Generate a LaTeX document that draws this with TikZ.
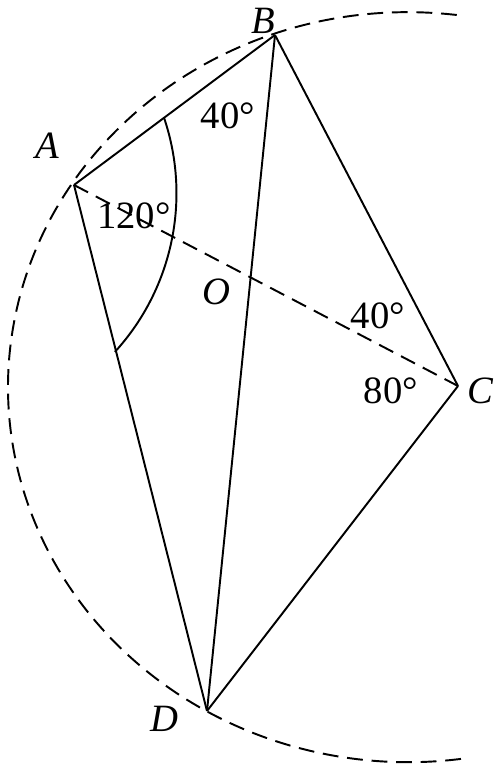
\documentclass[tikz,border=0pt]{standalone}
\usepackage{fontspec}
\setmainfont{Liberation Serif}
\usetikzlibrary{calc}
\tikzset{%
  seg/.style={line width=1.1pt},
  aux/.style={line width=1.1pt, dash pattern=on 9pt off 5pt},
  ptlabel/.style={font=\fontsize{22}{26}\selectfont\itshape, inner sep=0pt},
  anglabel/.style={font=\fontsize{22}{26}\selectfont, inner sep=0pt}
}

\begin{document}
\begin{tikzpicture}
  \useasboundingbox (0,0) rectangle (9.96,15.38);

  \coordinate (A) at (1.48,11.68);
  \coordinate (B) at (5.50,14.68);
  \coordinate (C) at (9.16,7.66);
  \coordinate (D) at (4.14,1.16);
  \coordinate (O) at (intersection of A--C and B--D);
  \coordinate (e0) at (9.135,15.08);
  \coordinate (a1) at ($(A)!0.448!(B)$);

  \draw[aux] (e0) arc[start angle=83, end angle=278, x radius=8, y radius=7.5];
  \draw[aux] (A) -- (C);

  \draw[seg] (A) -- (B);
  \draw[seg] (B) -- (C);
  \draw[seg] (C) -- (D);
  \draw[seg] (D) -- (A);
  \draw[seg] (B) -- (D);
  \draw[seg] (a1) arc[start angle=18.7, end angle=-42.4, radius=4.706];

  \node[ptlabel] (lA) at (0.94,12.46) {A};
  \node[ptlabel] (lB) at (5.26,14.96) {B};
  \node[ptlabel] (lC) at (9.60,7.56) {C};
  \node[ptlabel] (lD) at (3.28,1.00) {D};
  \node[ptlabel] (lO) at (4.32,9.54) {O};

  \node[anglabel] (angB) at (4.56,13.06) {40°};
  \node[anglabel] (angA) at (2.68,11.06) {120°};
  \node[anglabel] (angC1) at (7.56,9.06) {40°};
  \node[anglabel] (angC2) at (7.82,7.56) {80°};
\end{tikzpicture}
\end{document}
